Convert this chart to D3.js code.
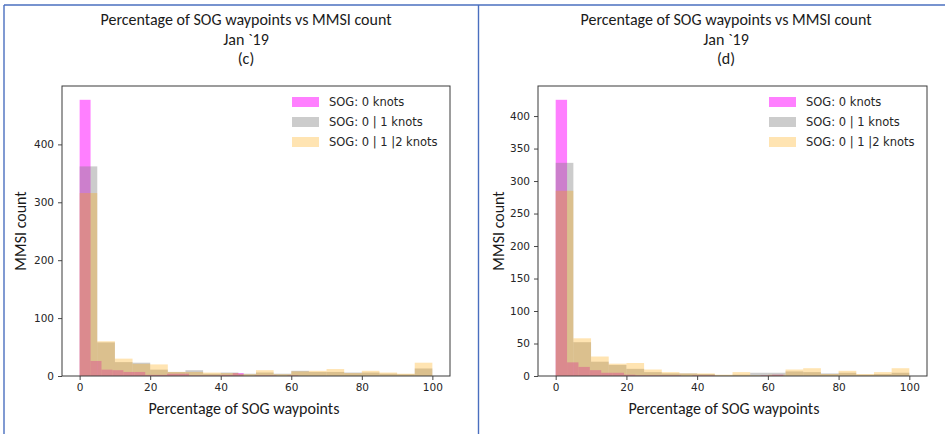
<!DOCTYPE html>
<html>
<head>
<meta charset="utf-8">
<script src="https://cdn.jsdelivr.net/npm/d3@7"></script>
<style>
  html, body { margin: 0; padding: 0; background: #fff; }
  svg { display: block; }
  .title, .axlabel { font-family: Carlito, "Liberation Sans Narrow", "Liberation Sans", sans-serif; fill: #1a1a1a; }
  .tick text { font-family: "DejaVu Sans", sans-serif; font-size: 10.5px; fill: #262626; }
  .legend text { font-family: "DejaVu Sans", sans-serif; font-size: 11.5px; fill: #262626; }
</style>
</head>
<body>
<svg id="chart" width="945" height="434"></svg>
<script>
// Histogram counts of MMSIs per percentage-of-waypoints bin, January 2019.
// "SOG: 0 knots" uses 20 narrower bins; the other two series use 5-point bins on 0-100.

// Panel (c)
const binWidthC0 = 3.1;
const countsC0   = [477, 26, 11, 10, 7, 7, 2, 2, 4, 4, 1, 1, 1, 2, 5, 0, 1, 1, 0, 1];
const countsC01  = [362, 58, 24, 23, 11, 7, 10, 4, 6, 4, 6, 4, 9, 7, 7, 6, 6, 4, 3, 13];
const countsC012 = [316, 60, 30, 21, 20, 7, 7, 6, 5, 3, 10, 3, 8, 9, 12, 5, 9, 6, 4, 23];

// Panel (d)
const binWidthD0 = 3.22;
const countsD0   = [425, 21, 14, 9, 5, 5, 2, 1, 1, 1, 1, 0, 1, 1, 0, 0, 0, 0, 1, 2];
const countsD01  = [328, 52, 22, 17, 11, 6, 4, 4, 3, 1, 2, 5, 5, 7, 6, 4, 5, 2, 3, 5];
const countsD012 = [285, 58, 30, 19, 20, 10, 6, 4, 4, 2, 6, 1, 2, 10, 12, 3, 8, 3, 6, 12];

const binWidthOther = 5;

const xTicks  = [0, 20, 40, 60, 80, 100];
const yTicksC = [0, 100, 200, 300, 400];
const yTicksD = [0, 50, 100, 150, 200, 250, 300, 350, 400];

const seriesNames = ["SOG: 0 knots", "SOG: 0 | 1 knots", "SOG: 0 | 1 |2 knots"];
const seriesColors = ["#ff00ff", "#808080", "#ffa500"];
const seriesAlpha = [0.5, 0.4, 0.3];

const titleLines = ["Percentage of SOG waypoints vs MMSI count", "Jan `19"];
const panelTags = ["(c)", "(d)"];
const xLabel = "Percentage of SOG waypoints";
const yLabel = "MMSI count";

const panels = [
  { tag: panelTags[0], series: [
      { counts: countsC0, width: binWidthC0 },
      { counts: countsC01, width: binWidthOther },
      { counts: countsC012, width: binWidthOther }],
    yTicks: yTicksC,
    box: { left: 62, right: 450, top: 86, bottom: 376 },
    titleX: 246, ylabX: 21, legX: 292 },
  { tag: panelTags[1], series: [
      { counts: countsD0, width: binWidthD0 },
      { counts: countsD01, width: binWidthOther },
      { counts: countsD012, width: binWidthOther }],
    yTicks: yTicksD,
    box: { left: 538, right: 927, top: 86, bottom: 376 },
    titleX: 726, ylabX: 499, legX: 769 }
];

const svg = d3.select("#chart");

// Slide-style frame around the two panels
const frame = svg.append("g").attr("stroke", "#4a6fbf").attr("stroke-width", 1.4).attr("fill", "none");
frame.append("line").attr("x1", 4).attr("x2", 945).attr("y1", 5).attr("y2", 5);
frame.append("line").attr("x1", 4).attr("x2", 4).attr("y1", 5).attr("y2", 434);
frame.append("line").attr("x1", 478.5).attr("x2", 478.5).attr("y1", 5).attr("y2", 434);

panels.forEach(p => {
  const b = p.box;
  const x = d3.scaleLinear().domain([-5, 105]).range([b.left, b.right]);
  const ymax = 1.05 * d3.max(p.series, s => d3.max(s.counts));
  const y = d3.scaleLinear().domain([0, ymax]).range([b.bottom, b.top]);

  const g = svg.append("g");

  // Bars: each series drawn in turn so overlaps blend
  p.series.forEach((s, si) => {
    g.append("g")
      .attr("fill", seriesColors[si])
      .attr("fill-opacity", seriesAlpha[si])
      .selectAll("rect")
      .data(s.counts)
      .join("rect")
      .attr("x", (d, i) => x(i * s.width))
      .attr("width", (d, i) => x((i + 1) * s.width) - x(i * s.width))
      .attr("y", d => y(d))
      .attr("height", d => y(0) - y(d));
  });

  // Axes
  const xAxis = d3.axisBottom(x).tickValues(xTicks).tickSize(4).tickPadding(4);
  const yAxis = d3.axisLeft(y).tickValues(p.yTicks).tickSize(4).tickPadding(4);
  const gx = g.append("g").attr("transform", `translate(0,${b.bottom})`).call(xAxis);
  const gy = g.append("g").attr("transform", `translate(${b.left},0)`).call(yAxis);
  [gx, gy].forEach(a => {
    a.select(".domain").remove();
    a.selectAll(".tick line").attr("stroke", "#333").attr("stroke-width", 0.9);
  });

  // Axes frame
  g.append("rect")
    .attr("x", b.left).attr("y", b.top)
    .attr("width", b.right - b.left).attr("height", b.bottom - b.top)
    .attr("fill", "none").attr("stroke", "#3a3a3a").attr("stroke-width", 1);

  // Titles
  const t = g.append("g").attr("class", "title").attr("text-anchor", "middle").style("font-size", "16px");
  t.append("text").attr("x", p.titleX).attr("y", 25).text(titleLines[0]);
  t.append("text").attr("x", p.titleX).attr("y", 45).text(titleLines[1]);
  t.append("text").attr("x", p.titleX).attr("y", 64).text(p.tag);

  // Axis labels
  g.append("text").attr("class", "axlabel").attr("text-anchor", "middle")
    .style("font-size", "16px")
    .attr("x", p.titleX - 2).attr("y", 414).text(xLabel);
  g.append("text").attr("class", "axlabel").attr("text-anchor", "middle")
    .style("font-size", "16px")
    .attr("transform", `translate(${p.ylabX + 5},${(b.top + b.bottom) / 2}) rotate(-90)`)
    .text(yLabel);

  // Legend
  const leg = g.append("g").attr("class", "legend");
  seriesNames.forEach((name, i) => {
    const cy = 102 + i * 20;
    leg.append("rect")
      .attr("x", p.legX).attr("y", cy - 5).attr("width", 27).attr("height", 10)
      .attr("fill", seriesColors[i]).attr("fill-opacity", seriesAlpha[i]);
    leg.append("text").attr("x", p.legX + 37).attr("y", cy + 4).text(name);
  });
});
</script>
</body>
</html>
